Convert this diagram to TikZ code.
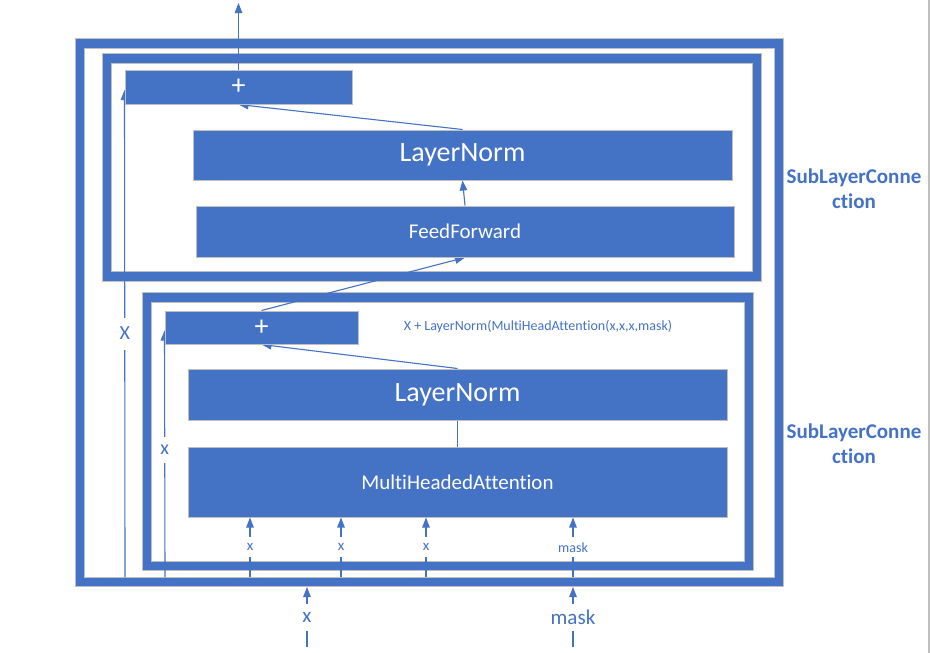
\documentclass[tikz,border=0pt]{standalone}
\usepackage{fontspec}
\setmainfont{Carlito}[Ligatures=NoCommon]
\usetikzlibrary{arrows.meta,calc}
\definecolor{oblue}{HTML}{4472C4}
\definecolor{ogray}{HTML}{BFBFBF}
\pgfdeclarelayer{frames}
\pgfdeclarelayer{lines}
\pgfsetlayers{frames,lines,main}
\begin{document}
\begin{tikzpicture}[x=1pt,y=-1pt,
  box/.style={fill=oblue, draw=ogray, line width=1pt, text=white, inner sep=0pt},
  framebox/.style={fill=oblue, even odd rule, draw=ogray, line width=1pt},
  conn/.style={draw=oblue, line width=1.1pt},
  arr/.style={conn, -{Triangle[length=10pt,width=7.5pt]}},
  lab/.style={text=oblue, fill=white, inner sep=0pt, minimum width=14pt},
  slc/.style={text=oblue, font=\bfseries\fontsize{21}{25}\selectfont, align=center},
]
\useasboundingbox (0,0) rectangle (930,653);

% boxes
\node[box, minimum width=227pt, minimum height=34pt, font=\fontsize{28}{28}\selectfont] (plusT) at (238.5,87) {+};
\node[box, minimum width=539pt, minimum height=50pt, font=\fontsize{28}{28}\selectfont] (lnT) at (462.5,155) {\raisebox{-2pt}{LayerNorm}};
\node[box, minimum width=538pt, minimum height=51pt, font=\fontsize{21}{21}\selectfont] (ff) at (465,231.5) {FeedForward};
\node[box, minimum width=193pt, minimum height=33pt, font=\fontsize{28}{28}\selectfont] (plusB) at (261.5,327.5) {+};
\node[box, minimum width=539pt, minimum height=51pt, font=\fontsize{28}{28}\selectfont] (lnB) at (457.5,394.5) {\raisebox{-2pt}{LayerNorm}};
\node[box, minimum width=539pt, minimum height=70pt, font=\fontsize{21}{21}\selectfont] (mha) at (457.5,482) {MultiHeadedAttention};

% texts
\node[text=oblue, font=\fontsize{14}{14}\selectfont] (expr) at (538,327) {X + LayerNorm(MultiHeadAttention(x,x,x,mask)};
\node[slc] (slc1) at (854,189) {SubLayerConne\\ction};
\node[slc] (slc2) at (854,444) {SubLayerConne\\ction};

% free ends
\coordinate (outTop) at (plusT.north |- 0,3);
\coordinate (skipT) at (125,577);
\coordinate (skipB) at (165,577);
\coordinate (in1) at (250,577);
\coordinate (in2) at (341,577);
\coordinate (in3) at (426,577);
\coordinate (in4) at (573,577);
\coordinate (srcX) at (307,647);
\coordinate (srcM) at (573,647);
\coordinate (tgtX) at (307,587);
\coordinate (tgtM) at (573,587);

\begin{pgfonlayer}{frames}
\fill[white] (0,0) rectangle (930,653);
\path[framebox] (75,38) rectangle (783,586) (84,48) rectangle (774,577);
\path[framebox] (102,53) rectangle (761,281) (111,63) rectangle (752,271);
\path[framebox] (142,292) rectangle (753,570) (151,302) rectangle (744,561);
\draw[ogray, line width=1.5pt] (929,0) -- (929,653);
\end{pgfonlayer}

\begin{pgfonlayer}{lines}
\draw[arr] (plusT.north) -- (outTop);
\draw[arr] (lnT.north) -- (plusT.south);
\draw[arr] (ff.north) -- (lnT.south);
\draw[arr] (plusB.north) -- (ff.south);
\draw[arr] (lnB.north) -- (plusB.south);
\draw[conn] (mha.north) -- (lnB.south);
\draw[arr] (skipT) -- ([yshift=-3pt]plusT.west)
  node[lab, pos=0.5, minimum height=32pt, font=\fontsize{20}{20}\selectfont] {X};
\draw[arr] (skipB) -- ([yshift=-3pt]plusB.west)
  node[lab, pos=0.515, minimum height=26pt, font=\fontsize{20}{20}\selectfont] {x};
\foreach \c in {in1,in2,in3}{
  \draw[arr] (\c) -- (\c |- mha.south)
    node[lab, pos=0.5, minimum height=20pt, font=\fontsize{15}{15}\selectfont] {x};
}
\draw[arr] (in4) -- (in4 |- mha.south)
  node[lab, pos=0.5, minimum height=20pt, font=\fontsize{14}{14}\selectfont] {mask};
\draw[arr] (srcX) -- (tgtX)
  node[lab, pos=0.5, minimum height=27pt, font=\fontsize{21}{21}\selectfont] {x};
\draw[arr] (srcM) -- (tgtM)
  node[lab, pos=0.5, minimum height=27pt, font=\fontsize{21}{21}\selectfont] {mask};
\end{pgfonlayer}
\end{tikzpicture}
\end{document}
